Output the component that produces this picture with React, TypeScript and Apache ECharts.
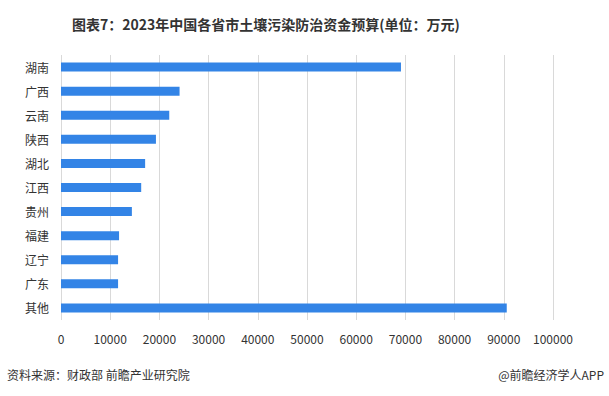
import React, { useEffect, useRef } from "react";
import * as echarts from "echarts";

const categories = ["湖南", "广西", "云南", "陕西", "湖北", "江西", "贵州", "福建", "辽宁", "广东", "其他"];
const values = [69100, 24100, 22000, 19300, 17100, 16300, 14400, 11800, 11600, 11600, 90600];
const titleText = "图表7：2023年中国各省市土壤污染防治资金预算(单位：万元)";
const sourceText = "资料来源：财政部 前瞻产业研究院";
const brandText = "@前瞻经济学人APP";

export default function App() {
  const ref = useRef<HTMLDivElement>(null);
  useEffect(() => {
    if (!ref.current) return;
    const chart = echarts.init(ref.current, undefined, { renderer: "svg" });
    const font = "'Microsoft YaHei', 'Noto Sans CJK SC', sans-serif";
    chart.setOption({
      animation: false,
      backgroundColor: "#ffffff",
      title: {
        text: titleText,
        left: 67,
        top: 12,
        textStyle: { fontSize: 14, fontWeight: "bold", color: "#333333", fontFamily: font },
      },
      grid: { left: 61, right: 56, top: 55, bottom: 76, containLabel: false },
      xAxis: {
        type: "value",
        min: 0,
        max: 100000,
        interval: 10000,
        axisLine: { show: false },
        axisTick: { show: false },
        axisLabel: {
          color: "#333333",
          fontSize: 12,
          margin: 12,
          fontFamily: font,
          formatter: (v: number) => String(v),
        },
        splitLine: { show: true, lineStyle: { color: "#d9d9d9", width: 1 } },
      },
      yAxis: {
        type: "category",
        data: categories,
        inverse: true,
        axisLine: { show: false },
        axisTick: { show: false },
        axisLabel: { color: "#333333", fontSize: 12, margin: 12, fontFamily: font },
      },
      series: [
        {
          type: "bar",
          data: values,
          barWidth: 9,
          itemStyle: { color: "#3384e6" },
        },
      ],
      graphic: [
        {
          type: "text",
          left: 7,
          top: 368,
          style: { text: sourceText, fontSize: 12, fill: "#333333", fontFamily: font },
        },
        {
          type: "text",
          right: 5,
          top: 368,
          style: { text: brandText, fontSize: 12, fill: "#333333", fontFamily: font },
        },
      ],
    });
    return () => chart.dispose();
  }, []);
  return <div ref={ref} style={{ width: 609, height: 396, position: "absolute", left: 0, top: 0 }} />;
}
